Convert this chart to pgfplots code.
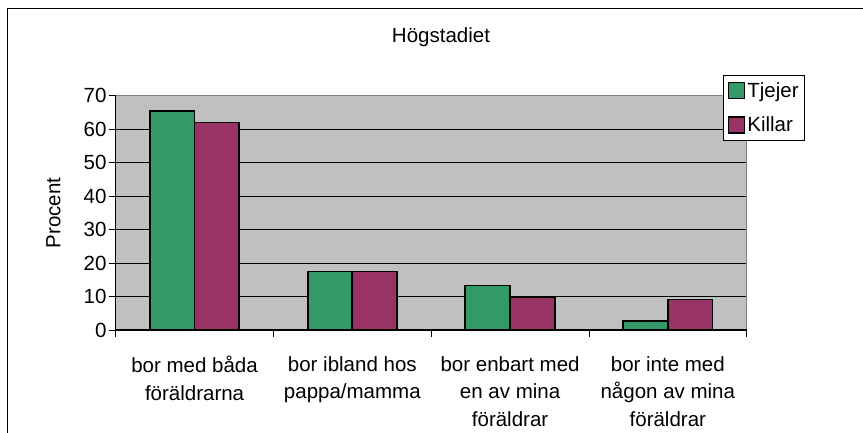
\documentclass[border=0pt]{standalone}
\usepackage{fontspec}
\setmainfont{Liberation Sans}
\usepackage{pgfplots}
\pgfplotsset{compat=1.18}
\definecolor{tj}{HTML}{339966}
\definecolor{ki}{HTML}{993366}
\definecolor{bg}{HTML}{C0C0C0}
\definecolor{fr}{HTML}{808080}
\newcommand{\fs}{\fontsize{20.5}{27.5}\selectfont}
\pgfplotsset{mylegend/.style={legend image code/.code={\draw[##1,line width=1.6pt] (0pt,-8pt) rectangle (16pt,8pt);}}}
\begin{document}
\begin{tikzpicture}[x=1pt,y=1pt]
\useasboundingbox (0,0) rectangle (863,433);
\draw[black, line width=1pt] (7,-2) -- (7,424) -- (866,424);
\begin{axis}[
  at={(115.7pt,103pt)}, anchor=south west,
  scale only axis, width=631pt, height=234.3pt,
  ymin=0, ymax=70, ytick={0,10,...,70},
  xmin=-0.5, xmax=3.5,
  xtick={0,1,2,3},
  xticklabels={{bor med båda\\föräldrarna},{bor ibland hos\\pappa/mamma},{bor enbart med\\en av mina\\föräldrar},{bor inte med\\någon av mina\\föräldrar}},
  minor xtick={-0.5,0.5,1.5,2.5,3.5},
  ybar=0pt, bar width=44.7pt,
  axis background/.style={fill=bg},
  axis line style={draw=none},
  ymajorgrids, major grid style={black, line width=0.8pt},
  tick align=outside, tick pos=left,
  major tick length=7pt, minor tick length=7pt,
  every major x tick/.append style={draw=none},
  every minor x tick/.append style={black, line width=0.9pt},
  every major y tick/.append style={black, line width=0.9pt},
  /pgf/number format/assume math mode=true,
  yticklabel style={font=\fs, inner sep=0pt, xshift=-2pt},
  xticklabel style={font=\fs, align=center, anchor=north, inner sep=0pt, yshift=-19pt},
  ylabel={Procent},
  ylabel style={at={(rel axis cs:-0.0986,0.5)}, anchor=center, font=\fs},
  title={Högstadiet},
  title style={at={(0.5155,1.222)}, anchor=center, font=\fs},
  legend style={at={(0.963,1.088)}, anchor=north west, draw=black, line width=0.8pt, fill=white, font=\fs, row sep=14pt, inner xsep=4pt, inner ysep=5pt},
  legend cell align=left,
  clip=false,
]
\addplot[fill=tj, draw=black, line width=1.8pt, mylegend] coordinates {(0,65.4) (1,17.5) (2,13.3) (3,2.8)};
\addlegendentry{Tjejer}
\addplot[fill=ki, draw=black, line width=1.8pt, mylegend] coordinates {(0,62) (1,17.5) (2,9.8) (3,9.1)};
\addlegendentry{Killar}
\draw[fr, line width=1.3pt] (rel axis cs:0,1) -- (rel axis cs:1,1) -- (rel axis cs:1,0);
\draw[black, line width=1pt] (rel axis cs:0,1) -- (rel axis cs:0,0) -- (rel axis cs:1,0);
\end{axis}
\end{tikzpicture}
\end{document}
